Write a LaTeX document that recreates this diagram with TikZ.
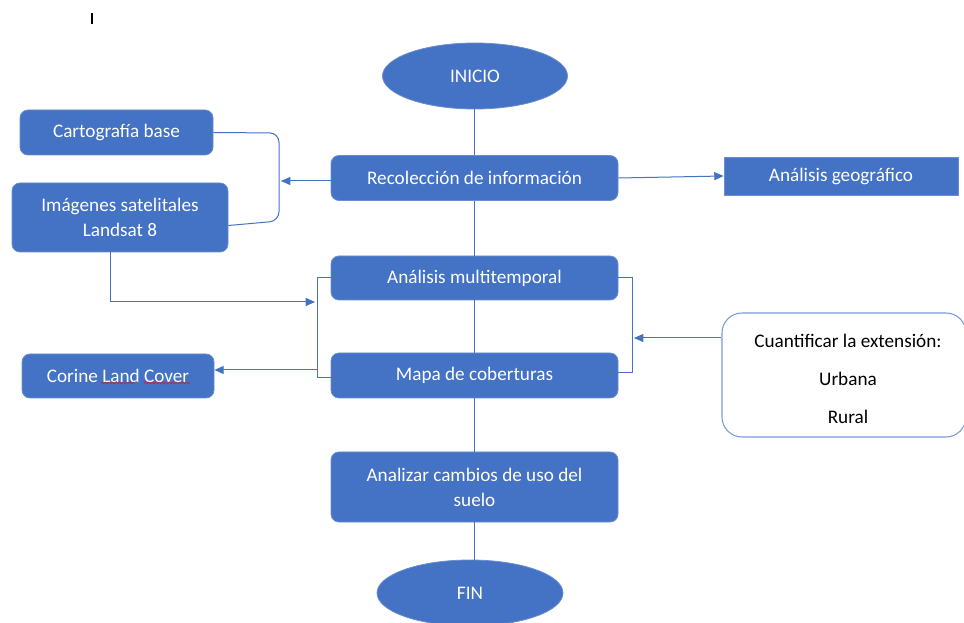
\documentclass[tikz,border=0pt]{standalone}
\usepackage{fontspec}
\setmainfont{Carlito}
\usetikzlibrary{arrows.meta,shapes.geometric,decorations.pathmorphing}
\definecolor{boxblue}{HTML}{4472C4}
\definecolor{edgeblue}{HTML}{6A8ECF}
\definecolor{lineblue}{HTML}{4472C4}
\definecolor{lightedge}{HTML}{7C9CD6}
\definecolor{spellred}{HTML}{C0262D}
\tikzset{
  bluebox/.style={draw=edgeblue, line width=0.6pt, fill=boxblue, rounded corners=6pt,
    text=white, font=\fontsize{14.4}{18.75}\selectfont, align=center, inner sep=0pt},
  squarebox/.style={bluebox, rounded corners=0pt},
  blueell/.style={ellipse, draw=edgeblue, line width=0.6pt, fill=boxblue, text=white,
    font=\fontsize{14.4}{17}\selectfont, inner sep=0pt},
  whitebox/.style={draw=lightedge, line width=0.8pt, fill=white, rounded corners=15pt, inner sep=0pt},
  conn/.style={draw=lineblue, line width=0.75pt},
  arr/.style={conn, -{Triangle[length=7pt,width=6pt]}},
}
\begin{document}
\begin{tikzpicture}[x=0.75pt,y=-0.75pt]
\clip (0,0) rectangle (964,623);
\fill[white] (0,0) rectangle (964,623);
% cursor mark
\coordinate (cur1) at (92,13);
\coordinate (cur2) at (92,24);
\draw[black, line width=0.8pt] (cur1) -- (cur2);
% nodes
\node[blueell, minimum width=138.75pt, minimum height=49.5pt] (inicio) at (475,76) {INICIO};
\node[bluebox, minimum width=215.25pt, minimum height=33.75pt] (recol) at (474.5,178) {Recolección de información};
\node[squarebox, minimum width=175.5pt, minimum height=28.5pt] (geo) at (841,176) {Análisis geográfico};
\node[bluebox, minimum width=144.75pt, minimum height=33.75pt] (carto) at (116.5,132.5) {Cartografía base};
\node[bluebox, minimum width=162pt, minimum height=51.75pt] (imag) at (120,217.5) {Imágenes satelitales\\Landsat 8};
\node[bluebox, minimum width=215.25pt, minimum height=33pt] (multi) at (474.5,278) {Análisis multitemporal};
\node[bluebox, minimum width=215.25pt, minimum height=33.75pt] (mapa) at (474.5,375.5) {Mapa de coberturas};
\node[bluebox, minimum width=144pt, minimum height=33pt] (corine) at (118,376) {Corine Land Cover};
\node[whitebox, minimum width=183pt, minimum height=93pt] (cuant) at (844,375) {};
\node[text=black, font=\fontsize{14.4}{28.5}\selectfont, align=center, inner sep=0pt] (cuanttxt) at (848,379) {Cuantificar la extensión:\\Urbana\\Rural};
\node[bluebox, minimum width=215.25pt, minimum height=52.5pt] (anal) at (474.5,487) {Analizar cambios de uso del\\suelo};
\node[blueell, minimum width=139.5pt, minimum height=49.5pt] (fin) at (470,593) {FIN};
% spell-check underline
\coordinate (sp1) at (101,383);
\coordinate (sp2) at (135,383);
\coordinate (sp3) at (144,383);
\coordinate (sp4) at (190,383);
\draw[spellred, line width=0.5pt, decorate, decoration={snake, amplitude=0.7pt, segment length=2.6pt}] (sp1) -- (sp2);
\draw[spellred, line width=0.5pt, decorate, decoration={snake, amplitude=0.7pt, segment length=2.6pt}] (sp3) -- (sp4);
% vertical spine
\draw[conn] (inicio.south -| recol.north) -- (recol.north);
\draw[conn] (recol.south) -- (multi.north);
\draw[conn] (multi.south) -- (mapa.north);
\draw[conn] (mapa.south) -- (anal.north);
\draw[conn] (anal.south) -- (anal.south |- fin.north);
% recol -> geo
\draw[arr] (recol.east) -- (geo.west);
% left bracket (carto / imag)
\coordinate (bl1) at (279,133);
\coordinate (bl2) at (279,221);
\coordinate (bmid) at (281,181);
\draw[conn, rounded corners=7pt] (carto.east) -- (bl1) -- (bl2) -- ([shift={(0,8)}]imag.east);
\draw[arr] (recol.west |- bmid) -- (bmid);
% imag -> middle left bracket
\coordinate (ia) at (110,0);
\coordinate (ib) at (315,302);
\draw[arr] (imag.south -| ia) |- (ib);
% middle left bracket
\coordinate (ml1) at (317,278);
\coordinate (ml2) at (317,378);
\draw[conn] (multi.west) -- (ml1) -- (ml2) -- (mapa.west |- ml2);
\coordinate (cl) at (317,370);
\draw[arr] (cl) -- (corine.east |- cl);
% right bracket
\coordinate (mr1) at (632,278);
\coordinate (mr2) at (632,373);
\draw[conn] (multi.east) -- (mr1) -- (mr2) -- (mapa.east |- mr2);
\coordinate (cr) at (634,338);
\draw[arr] (cuant.west |- cr) -- (cr);
\end{tikzpicture}
\end{document}
